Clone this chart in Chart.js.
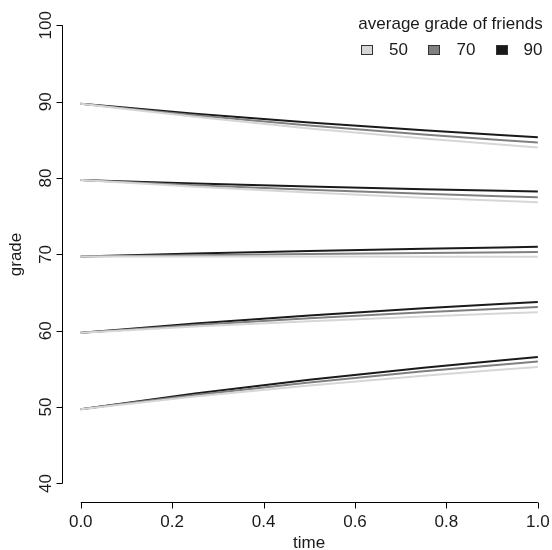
<!DOCTYPE html>
<html>
<head>
<meta charset="utf-8">
<script src="https://cdn.jsdelivr.net/npm/chart.js@4/dist/chart.umd.min.js"></script>
<style>
  html, body { margin: 0; padding: 0; background: #ffffff; }
  #wrap { width: 552px; height: 550px; }
</style>
</head>
<body>
<div id="wrap"><canvas id="c" width="552" height="550"></canvas></div>
<script>
// time points at which each trajectory is evaluated
const timePoints = [0, 0.25, 0.5, 0.75, 1];

// axis ticks
const xTicks = [0, 0.2, 0.4, 0.6, 0.8, 1.0];
const xTickLabels = ["0.0", "0.2", "0.4", "0.6", "0.8", "1.0"];
const yTicks = [40, 50, 60, 70, 80, 90, 100];
const yTickLabels = ["40", "50", "60", "70", "80", "90", "100"];

// legend: average grade of friends
const friendGrades = ["50", "70", "90"];
const friendColors = ["#d6d6d6", "#808080", "#1a1a1a"];

// predicted grade over time, one row per starting grade (50..90)
const friends50 = [
  [49.73, 51.38, 52.83, 54.12, 55.25],
  [59.73, 60.54, 61.25, 61.88, 62.43],
  [69.73, 69.72, 69.71, 69.70, 69.69],
  [79.73, 78.86, 78.09, 77.42, 76.82],
  [89.73, 88.02, 86.50, 85.17, 83.99]
];
const friends70 = [
  [49.73, 51.59, 53.23, 54.68, 55.96],
  [59.73, 60.74, 61.64, 62.42, 63.12],
  [69.73, 69.90, 70.05, 70.18, 70.30],
  [79.73, 79.06, 78.47, 77.94, 77.48],
  [89.73, 88.21, 86.87, 85.69, 84.65]
];
const friends90 = [
  [49.73, 51.77, 53.57, 55.16, 56.56],
  [59.73, 60.94, 62.01, 62.95, 63.78],
  [69.73, 70.11, 70.44, 70.74, 71.00],
  [79.73, 79.28, 78.88, 78.53, 78.22],
  [89.73, 88.42, 87.27, 86.25, 85.35]
];

const FONT = '"Liberation Sans", Arial, Helvetica, sans-serif';
const TEXT = '#1a1a1a';

const seriesByFriends = [friends50, friends70, friends90];
const datasets = [];
seriesByFriends.forEach((rows, fi) => {
  rows.forEach(row => {
    datasets.push({
      data: row.map((v, i) => ({ x: timePoints[i], y: v })),
      borderColor: friendColors[fi],
      borderWidth: 2,
      pointRadius: 0,
      fill: false,
      cubicInterpolationMode: 'monotone'
    });
  });
});

// base-graphics style axes, labels and legend
const axesPlugin = {
  id: 'baseAxes',
  afterDraw(chart) {
    const ctx = chart.ctx;
    const xs = chart.scales.x, ys = chart.scales.y;
    const area = chart.chartArea;
    ctx.save();
    ctx.strokeStyle = '#000';
    ctx.lineWidth = 1;
    ctx.fillStyle = TEXT;
    ctx.font = '17px ' + FONT;

    // x axis
    const xa = Math.round(area.bottom) + 0.5;
    const x0 = xs.getPixelForValue(xTicks[0]);
    const x1 = xs.getPixelForValue(xTicks[xTicks.length - 1]);
    ctx.beginPath();
    ctx.moveTo(x0, xa); ctx.lineTo(x1, xa);
    xTicks.forEach(t => {
      const px = Math.round(xs.getPixelForValue(t)) + 0.5;
      ctx.moveTo(px, xa); ctx.lineTo(px, xa + 6);
    });
    ctx.stroke();
    ctx.textAlign = 'center';
    ctx.textBaseline = 'alphabetic';
    xTicks.forEach((t, i) => {
      ctx.fillText(xTickLabels[i], xs.getPixelForValue(t), 526.5);
    });
    ctx.fillText('time', (area.left + xs.getPixelForValue(1.04)) / 2, 548);

    // y axis
    const ya = Math.round(area.left) + 0.5;
    const y0 = ys.getPixelForValue(yTicks[0]);
    const y1 = ys.getPixelForValue(yTicks[yTicks.length - 1]);
    ctx.beginPath();
    ctx.moveTo(ya, y0); ctx.lineTo(ya, y1);
    yTicks.forEach(t => {
      const py = Math.round(ys.getPixelForValue(t)) + 0.5;
      ctx.moveTo(ya, py); ctx.lineTo(ya - 6, py);
    });
    ctx.stroke();
    yTicks.forEach((t, i) => {
      ctx.save();
      ctx.translate(50.5, ys.getPixelForValue(t));
      ctx.rotate(-Math.PI / 2);
      ctx.textAlign = 'center';
      ctx.fillText(yTickLabels[i], 0, 0);
      ctx.restore();
    });
    ctx.save();
    ctx.translate(20.5, (area.top + area.bottom) / 2);
    ctx.rotate(-Math.PI / 2);
    ctx.textAlign = 'center';
    ctx.fillText('grade', 0, 0);
    ctx.restore();

    // legend
    ctx.textAlign = 'center';
    ctx.fillText('average grade of friends', 450.5, 28.5);
    const boxX = [361, 428, 496];
    const labX = [398.5, 466, 533];
    ctx.textAlign = 'center';
    friendGrades.forEach((g, i) => {
      ctx.fillStyle = friendColors[i];
      ctx.fillRect(boxX[i] + 0.5, 45.5, 11, 9);
      ctx.strokeStyle = '#333';
      ctx.strokeRect(boxX[i] + 0.5, 45.5, 11, 9);
      ctx.fillStyle = TEXT;
      ctx.fillText(g, labX[i], 54.5);
    });
    ctx.restore();
  }
};

new Chart(document.getElementById('c'), {
  type: 'line',
  data: { datasets },
  options: {
    responsive: false,
    animation: false,
    devicePixelRatio: 1,
    layout: { padding: { left: 62, right: 0, top: 7, bottom: 48 } },
    plugins: { legend: { display: false }, tooltip: { enabled: false } },
    scales: {
      x: { type: 'linear', min: -0.041, max: 1.031, display: false },
      y: { type: 'linear', min: 37.57, max: 102.4, display: false }
    },
    elements: { line: { borderCapStyle: 'butt' } }
  },
  plugins: [axesPlugin]
});
</script>
</body>
</html>
